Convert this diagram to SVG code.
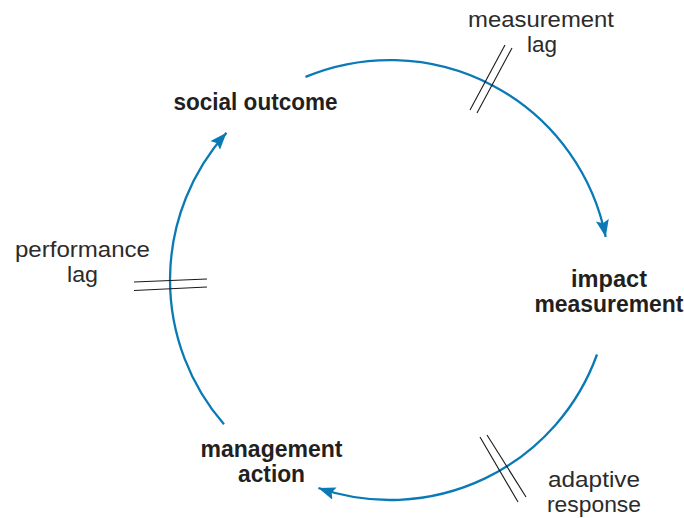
<svg xmlns="http://www.w3.org/2000/svg" width="684" height="518" viewBox="0 0 684 518">
<defs>
<style>
.arc{fill:none;stroke:#0a7ab6;stroke-width:2.3}
.hash{stroke:#1a1a1a;stroke-width:1.1}
.node{font-family:"Liberation Sans",Arial,sans-serif;font-weight:bold;font-size:23px;fill:#231f20;text-anchor:middle}
.lbl{font-family:"Liberation Sans",Arial,sans-serif;font-size:22px;fill:#2b2b2b;text-anchor:middle}
</style>
<marker id="ah" markerUnits="userSpaceOnUse" markerWidth="20" markerHeight="16" refX="17" refY="6.5" orient="auto">
<path d="M0,0 L17,6.5 L0,13 L3,6.5 z" fill="#0a7ab6"/>
</marker>
</defs>
<rect width="684" height="518" fill="#ffffff"/>
<g id="connectors">
<path class="arc" d="M305.5,76.9 A220,220 0 0 1 605.7,236.9" marker-end="url(#ah)"/>
<path class="arc" d="M597,354.5 A220,220 0 0 1 318.4,488" marker-end="url(#ah)"/>
<path class="arc" d="M224,424.3 A220,220 0 0 1 226.5,132.8" marker-end="url(#ah)"/>
</g>
<g id="lag-marks">
<line class="hash" x1="470" y1="110" x2="505" y2="45"/>
<line class="hash" x1="477" y1="113" x2="512" y2="48"/>
<line class="hash" x1="480" y1="437" x2="518" y2="502"/>
<line class="hash" x1="487" y1="435" x2="526" y2="497"/>
<line class="hash" x1="134" y1="282" x2="207" y2="279"/>
<line class="hash" x1="134" y1="290.5" x2="207" y2="287"/>
</g>
<g id="social-outcome">
<text class="node" x="255.5" y="110" textLength="164" lengthAdjust="spacingAndGlyphs">social outcome</text>
</g>
<g id="impact-measurement">
<text class="node" x="609" y="287" textLength="76" lengthAdjust="spacingAndGlyphs">impact</text>
<text class="node" x="609" y="312" textLength="149" lengthAdjust="spacingAndGlyphs">measurement</text>
</g>
<g id="management-action">
<text class="node" x="271.5" y="457" textLength="142" lengthAdjust="spacingAndGlyphs">management</text>
<text class="node" x="271.5" y="482" textLength="67" lengthAdjust="spacingAndGlyphs">action</text>
</g>
<g id="measurement-lag">
<text class="lbl" x="541" y="27" textLength="146" lengthAdjust="spacingAndGlyphs">measurement</text>
<text class="lbl" x="542" y="52" textLength="30" lengthAdjust="spacingAndGlyphs">lag</text>
</g>
<g id="performance-lag">
<text class="lbl" x="82.5" y="257" textLength="135" lengthAdjust="spacingAndGlyphs">performance</text>
<text class="lbl" x="82.5" y="282" textLength="31" lengthAdjust="spacingAndGlyphs">lag</text>
</g>
<g id="adaptive-response">
<text class="lbl" x="594" y="487" textLength="92" lengthAdjust="spacingAndGlyphs">adaptive</text>
<text class="lbl" x="594" y="512" textLength="94" lengthAdjust="spacingAndGlyphs">response</text>
</g>
</svg>
